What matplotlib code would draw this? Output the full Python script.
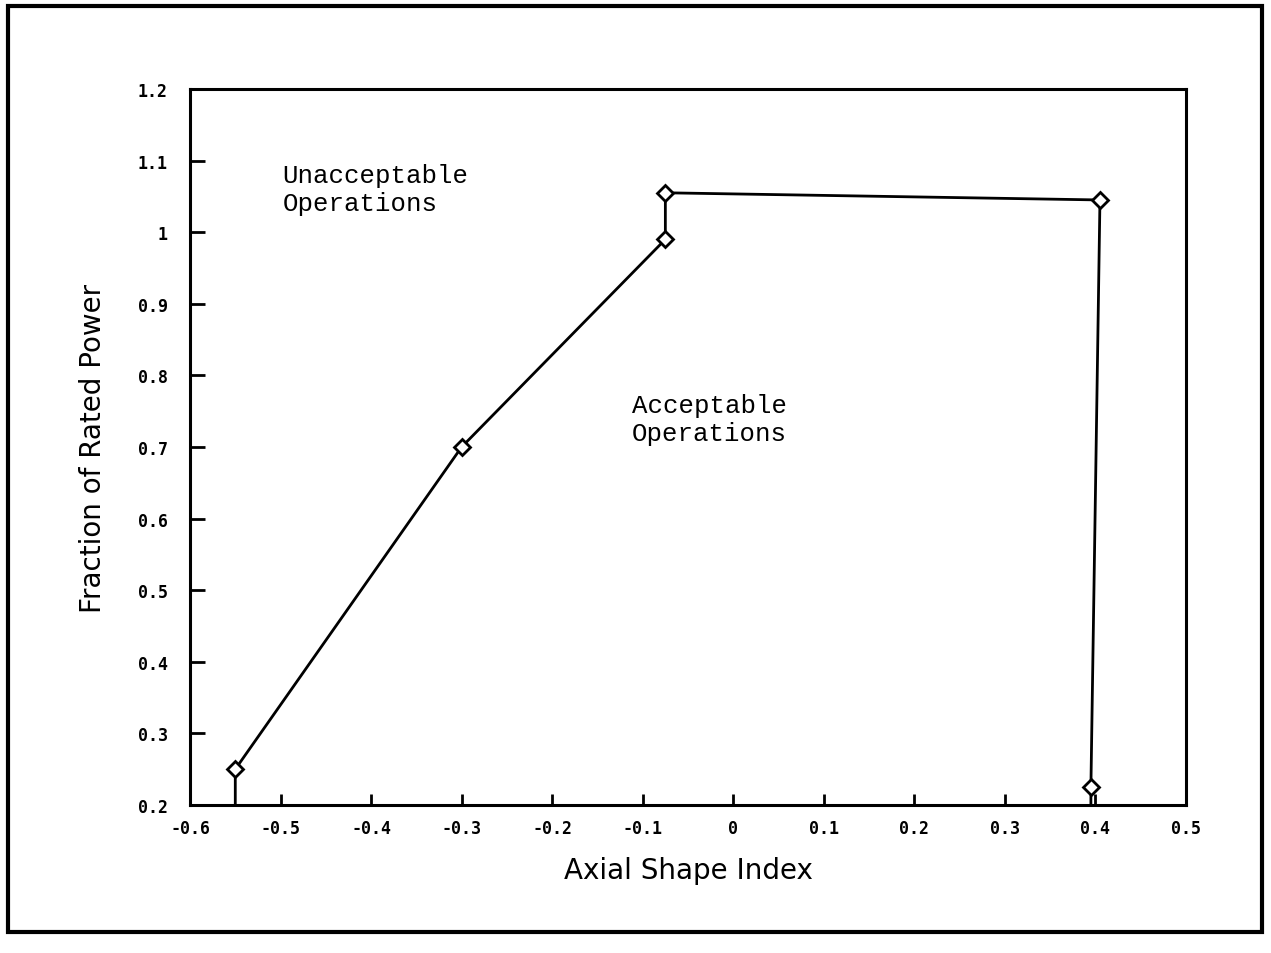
import numpy as np
import matplotlib.pyplot as plt
from matplotlib.patches import Rectangle

# limit line (axial shape index vs fraction of rated power)
asi = [-0.55, -0.55, -0.3, -0.075, -0.075, 0.405, 0.395, 0.395]
power = [0.2, 0.25, 0.7, 0.99, 1.055, 1.045, 0.225, 0.2]

xticks = [-0.6, -0.5, -0.4, -0.3, -0.2, -0.1, 0, 0.1, 0.2, 0.3, 0.4, 0.5]
xticklabels = ['-0.6', '-0.5', '-0.4', '-0.3', '-0.2', '-0.1', '0',
               '0.1', '0.2', '0.3', '0.4', '0.5']
yticks = [0.2, 0.3, 0.4, 0.5, 0.6, 0.7, 0.8, 0.9, 1, 1.1, 1.2]
yticklabels = ['0.2', '0.3', '0.4', '0.5', '0.6', '0.7', '0.8', '0.9',
               '1', '1.1', '1.2']

fig = plt.figure(figsize=(12.71, 9.54), dpi=100)
ax = fig.add_axes([0.1495, 0.1551, 0.7836, 0.7506])

ax.plot(asi, power, color='black', lw=2)
ax.plot(asi[1:-1], power[1:-1], ls='none', marker='D', ms=8,
        mfc='white', mec='black', mew=2)

ax.set_xlim(-0.6, 0.5)
ax.set_ylim(0.2, 1.2)
ax.set_xticks(xticks)
ax.set_xticklabels(xticklabels)
ax.set_yticks(yticks)
ax.set_yticklabels(yticklabels)
ax.tick_params(direction='in', length=11, width=2, top=False, right=False)
ax.tick_params(axis='x', length=8, pad=10)
ax.tick_params(axis='y', pad=16)
for lbl in ax.get_xticklabels() + ax.get_yticklabels():
    lbl.set_family('DejaVu Sans Mono')
    lbl.set_weight('bold')
    lbl.set_fontsize(12)
for s in ax.spines.values():
    s.set_linewidth(2.2)

ax.set_xlabel('Axial Shape Index', fontsize=20, labelpad=14)
ax.set_ylabel('Fraction of Rated Power', fontsize=20, labelpad=22)

ax.text(-0.498, 1.097, 'Unacceptable\nOperations', family='Liberation Mono',
        fontsize=18.5, va='top', ha='left', linespacing=1.2)
ax.text(-0.112, 0.775, 'Acceptable\nOperations', family='Liberation Mono',
        fontsize=18.5, va='top', ha='left', linespacing=1.2)

# scanned page frame
fig.patches.append(Rectangle((8 / 1271, 1 - 933 / 954), 1254 / 1271, 926 / 954,
                             transform=fig.transFigure, fill=False,
                             ec='black', lw=3))

plt.savefig('out.png', dpi=100)
